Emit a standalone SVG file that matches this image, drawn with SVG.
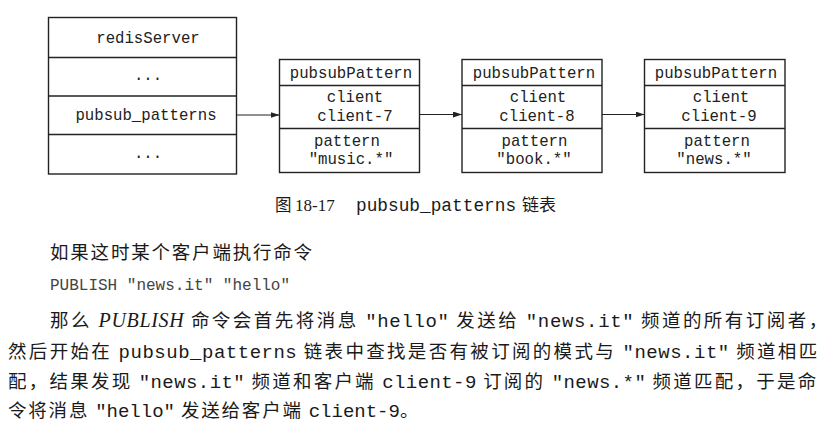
<svg xmlns="http://www.w3.org/2000/svg" width="834" height="435" viewBox="0 0 834 435">
<defs>
<style>
.box{fill:#fff;stroke:#222;stroke-width:1.4}
.div{stroke:#222;stroke-width:1.3}
.m{font-family:"Liberation Mono","DejaVu Sans Mono",monospace;font-size:15.7px;fill:#222;text-anchor:middle}
.conn{stroke:#222;stroke-width:1.2;fill:none}
.cjk{font-family:"Noto Sans CJK SC","Noto Sans",sans-serif;letter-spacing:1.8px}
.bm{font-family:"Liberation Mono","DejaVu Sans Mono",monospace;font-size:19px}
.body{font-family:"Noto Sans CJK SC","Noto Sans",sans-serif;font-size:18.5px;fill:#1a1a1a}
.it{font-family:"Liberation Serif","DejaVu Serif",serif;font-style:italic;font-size:20px}
</style>
<marker id="ah" viewBox="0 0 9 6" refX="9" refY="3" markerWidth="9" markerHeight="6" orient="auto" markerUnits="userSpaceOnUse">
<path d="M0,0 L9,3 L0,6 z" fill="#222"/>
</marker>
</defs>
<rect width="834" height="435" fill="#fff"/>

<g id="redisServer">
<rect class="box" x="48.5" y="17.5" width="188" height="156.5"/>
<line class="div" x1="48.5" y1="57.5" x2="236.5" y2="57.5"/>
<line class="div" x1="48.5" y1="96" x2="236.5" y2="96"/>
<line class="div" x1="48.5" y1="134.5" x2="236.5" y2="134.5"/>
<text class="m" x="148" y="43">redisServer</text>
<text class="m" x="148" y="80">...</text>
<text class="m" x="146" y="120">pubsub_patterns</text>
<text class="m" x="148" y="158">...</text>
</g>

<g id="pattern1">
<rect class="box" x="279.5" y="59.5" width="140" height="113"/>
<line class="div" x1="279.5" y1="85.5" x2="419.5" y2="85.5"/>
<line class="div" x1="279.5" y1="128.5" x2="419.5" y2="128.5"/>
<text class="m" x="351" y="78">pubsubPattern</text>
<text class="m" x="355" y="102">client</text>
<text class="m" x="355" y="121">client-7</text>
<text class="m" x="347" y="145.5">pattern</text>
<text class="m" x="351" y="163.5">"music.*"</text>
</g>

<g id="pattern2">
<rect class="box" x="462" y="59.5" width="140" height="113"/>
<line class="div" x1="462" y1="85.5" x2="602" y2="85.5"/>
<line class="div" x1="462" y1="128.5" x2="602" y2="128.5"/>
<text class="m" x="534" y="78">pubsubPattern</text>
<text class="m" x="538" y="102">client</text>
<text class="m" x="537" y="121">client-8</text>
<text class="m" x="534.5" y="145.5">pattern</text>
<text class="m" x="534" y="163.5">"book.*"</text>
</g>

<g id="pattern3">
<rect class="box" x="644.5" y="59.5" width="140.5" height="113"/>
<line class="div" x1="644.5" y1="85.5" x2="785" y2="85.5"/>
<line class="div" x1="644.5" y1="128.5" x2="785" y2="128.5"/>
<text class="m" x="716" y="78">pubsubPattern</text>
<text class="m" x="721" y="102">client</text>
<text class="m" x="719" y="121">client-9</text>
<text class="m" x="717" y="145.5">pattern</text>
<text class="m" x="714" y="163.5">"news.*"</text>
</g>

<g id="connectors">
<line class="conn" x1="236.5" y1="115" x2="279.5" y2="115" marker-end="url(#ah)"/>
<line class="conn" x1="419.5" y1="114.5" x2="462" y2="114.5" marker-end="url(#ah)"/>
<line class="conn" x1="602" y1="114.5" x2="644.5" y2="114.5" marker-end="url(#ah)"/>
</g>

<g id="caption" fill="#1a1a1a">
<text x="275" y="211" font-family="Noto Sans CJK SC, sans-serif" font-size="16.5">图</text>
<text x="295" y="211" font-family="Liberation Serif, serif" font-size="17">18-17</text>
<text x="356" y="211" font-family="Liberation Mono, monospace" font-size="17.8">pubsub_patterns</text>
<text x="522" y="211" font-family="Noto Sans CJK SC, sans-serif" font-size="17">链表</text>
</g>

<g id="bodytext">
<text class="body" x="50" y="259"><tspan class="cjk">如果这时某个客户端执行命令</tspan></text>
<text x="50" y="290" font-family="Liberation Mono, monospace" font-size="16" fill="#444">PUBLISH "news.it" "hello"</text>
<text class="body" x="50" y="327" textLength="779" lengthAdjust="spacing"><tspan class="cjk">那么 </tspan><tspan class="it">PUBLISH</tspan><tspan class="cjk"> 命令会首先将消息 </tspan><tspan class="bm">"hello"</tspan><tspan class="cjk"> 发送给 </tspan><tspan class="bm">"news.it"</tspan><tspan class="cjk"> 频道的所有订阅者，</tspan></text>
<text class="body" x="8" y="358" textLength="811" lengthAdjust="spacing"><tspan class="cjk">然后开始在 </tspan><tspan class="bm">pubsub_patterns</tspan><tspan class="cjk"> 链表中查找是否有被订阅的模式与 </tspan><tspan class="bm">"news.it"</tspan><tspan class="cjk"> 频道相匹</tspan></text>
<text class="body" x="8" y="388" textLength="810" lengthAdjust="spacing"><tspan class="cjk">配，结果发现 </tspan><tspan class="bm">"news.it"</tspan><tspan class="cjk"> 频道和客户端 </tspan><tspan class="bm">client-9</tspan><tspan class="cjk"> 订阅的 </tspan><tspan class="bm">"news.*"</tspan><tspan class="cjk"> 频道匹配，于是命</tspan></text>
<text class="body" x="8" y="417"><tspan class="cjk">令将消息 </tspan><tspan class="bm">"hello"</tspan><tspan class="cjk"> 发送给客户端 </tspan><tspan class="bm">client-9</tspan><tspan class="cjk">。</tspan></text>
</g>
</svg>
